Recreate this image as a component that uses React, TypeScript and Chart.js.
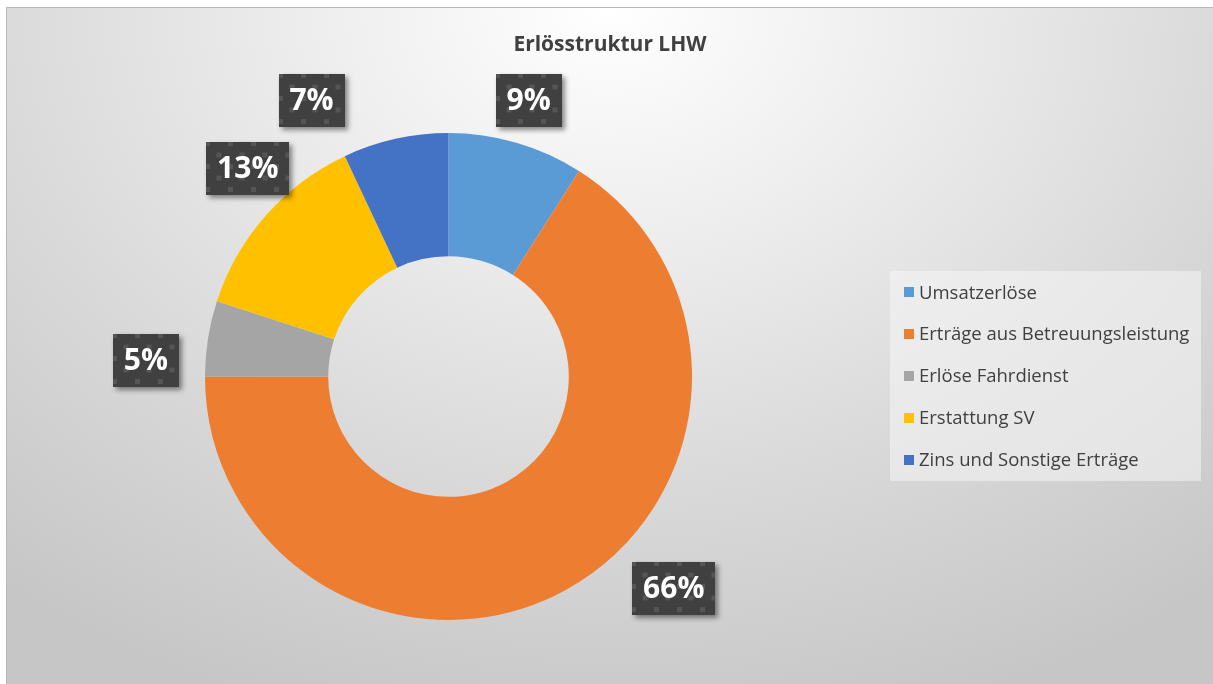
import React, { useEffect, useRef } from "react";
import { Chart, registerables } from "chart.js";

Chart.register(...registerables);

const categories = [
  "Umsatzerlöse",
  "Erträge aus Betreuungsleistung",
  "Erlöse Fahrdienst",
  "Erstattung SV",
  "Zins und Sonstige Erträge",
];
const shares = [9, 66, 5, 13, 7];
const colors = ["#5B9BD5", "#ED7D31", "#A5A5A5", "#FFC000", "#4472C4"];
const chartTitle = "Erlösstruktur LHW";

// label layout (best-fit style placement): angle offset (deg) and distance from centre (px)
const labelAngleOffset = [0, -18, -6, 4.6, -13.8];
const labelDistance = [287, 309, 303, 289, 308];

const FONT = "'Open Sans', 'Noto Sans', sans-serif";

const titlePlugin = {
  id: "centerTitle",
  afterDraw(chart: any) {
    const ctx = chart.ctx as CanvasRenderingContext2D;
    ctx.save();
    ctx.font = `bold 21px ${FONT}`;
    ctx.fillStyle = "#404040";
    ctx.textAlign = "center";
    ctx.textBaseline = "middle";
    ctx.fillText(chartTitle, chart.width / 2, 37);
    ctx.restore();
  },
};

const labelPlugin = {
  id: "excelLabels",
  afterDatasetsDraw(chart: any) {
    const ctx = chart.ctx as CanvasRenderingContext2D;
    const meta = chart.getDatasetMeta(0);
    const data = chart.data.datasets[0].data as number[];
    const total = data.reduce((a, b) => a + b, 0);
    meta.data.forEach((arc: any, i: number) => {
      const mid = (arc.startAngle + arc.endAngle) / 2 + (labelAngleOffset[i] * Math.PI) / 180;
      const cx = arc.x + Math.cos(mid) * labelDistance[i];
      const cy = arc.y + Math.sin(mid) * labelDistance[i];
      const text = Math.round((data[i] / total) * 100) + "%";
      ctx.save();
      ctx.font = `bold 30px ${FONT}`;
      const tw = ctx.measureText(text).width;
      const w = Math.round(tw + 22);
      const h = 53;
      const x = Math.round(cx - w / 2);
      const y = Math.round(cy - h / 2);
      ctx.shadowColor = "rgba(0,0,0,0.45)";
      ctx.shadowBlur = 5;
      ctx.shadowOffsetX = 3;
      ctx.shadowOffsetY = 3;
      ctx.fillStyle = "#404040";
      ctx.fillRect(x, y, w, h);
      ctx.shadowColor = "transparent";
      ctx.beginPath();
      ctx.rect(x, y, w, h);
      ctx.clip();
      ctx.fillStyle = "#555555";
      const step = 11.5;
      for (let r = 0; r * step < h + step; r++) {
        for (let c = 0; c * step < w + step; c++) {
          if ((r + c) % 2 === 0) ctx.fillRect(x + c * step - 1, y + r * step - 1, 5, 5);
        }
      }
      ctx.restore();
      ctx.save();
      ctx.font = `bold 30px ${FONT}`;
      ctx.fillStyle = "#ffffff";
      ctx.textAlign = "center";
      ctx.textBaseline = "middle";
      ctx.fillText(text, cx, y + h / 2 + 1);
      ctx.restore();
    });
  },
};

const legendPlugin = {
  id: "boxLegend",
  afterDraw(chart: any) {
    const ctx = chart.ctx as CanvasRenderingContext2D;
    const labels = chart.data.labels as string[];
    const bg = chart.data.datasets[0].backgroundColor as string[];
    const bx = 883;
    const by = 263;
    const bw = 311;
    const bh = 210;
    ctx.save();
    ctx.fillStyle = "rgba(245,245,245,0.55)";
    ctx.fillRect(bx, by, bw, bh);
    const rowH = 41.8;
    const cy0 = by + bh / 2 - rowH * (labels.length - 1) / 2;
    ctx.font = `18.5px ${FONT}`;
    ctx.textBaseline = "middle";
    labels.forEach((lab, i) => {
      const cy = cy0 + i * rowH;
      ctx.fillStyle = bg[i];
      ctx.fillRect(bx + 14, Math.round(cy - 5), 10, 10);
      ctx.fillStyle = "#404040";
      ctx.fillText(lab, bx + 29, cy + 1);
    });
    ctx.restore();
  },
};

export default function App() {
  const ref = useRef<HTMLCanvasElement | null>(null);
  useEffect(() => {
    if (!ref.current) return;
    const chart = new Chart(ref.current, {
      type: "doughnut",
      data: {
        labels: categories,
        datasets: [
          {
            data: shares,
            backgroundColor: colors,
            borderWidth: 0,
            hoverOffset: 0,
          },
        ],
      },
      options: {
        responsive: false,
        animation: false,
        cutout: "49.4%",
        layout: { padding: { left: 198, right: 521, top: 125, bottom: 64 } },
        plugins: {
          legend: { display: false },
          tooltip: { enabled: false },
          title: { display: false },
        },
      },
      plugins: [labelPlugin, legendPlugin, titlePlugin],
    });
    return () => chart.destroy();
  }, []);
  return (
    <div
      style={{
        position: "absolute",
        left: 6,
        top: 7,
        width: 1207,
        height: 677,
        boxSizing: "border-box",
        border: "1px solid #b8b8b8",
        borderRight: "none",
        borderBottom: "none",
        overflow: "hidden",
        background:
          "radial-gradient(ellipse 80% 110% at 50% 0%, #ffffff 0%, #eeeeee 30%, #d9d9d9 65%, #c6c6c6 100%)",
      }}
    >
      <canvas
        ref={ref}
        width={1206}
        height={676}
        role="img"
        aria-label={chartTitle}
        style={{ display: "block", width: 1206, height: 676 }}
      />
    </div>
  );
}
